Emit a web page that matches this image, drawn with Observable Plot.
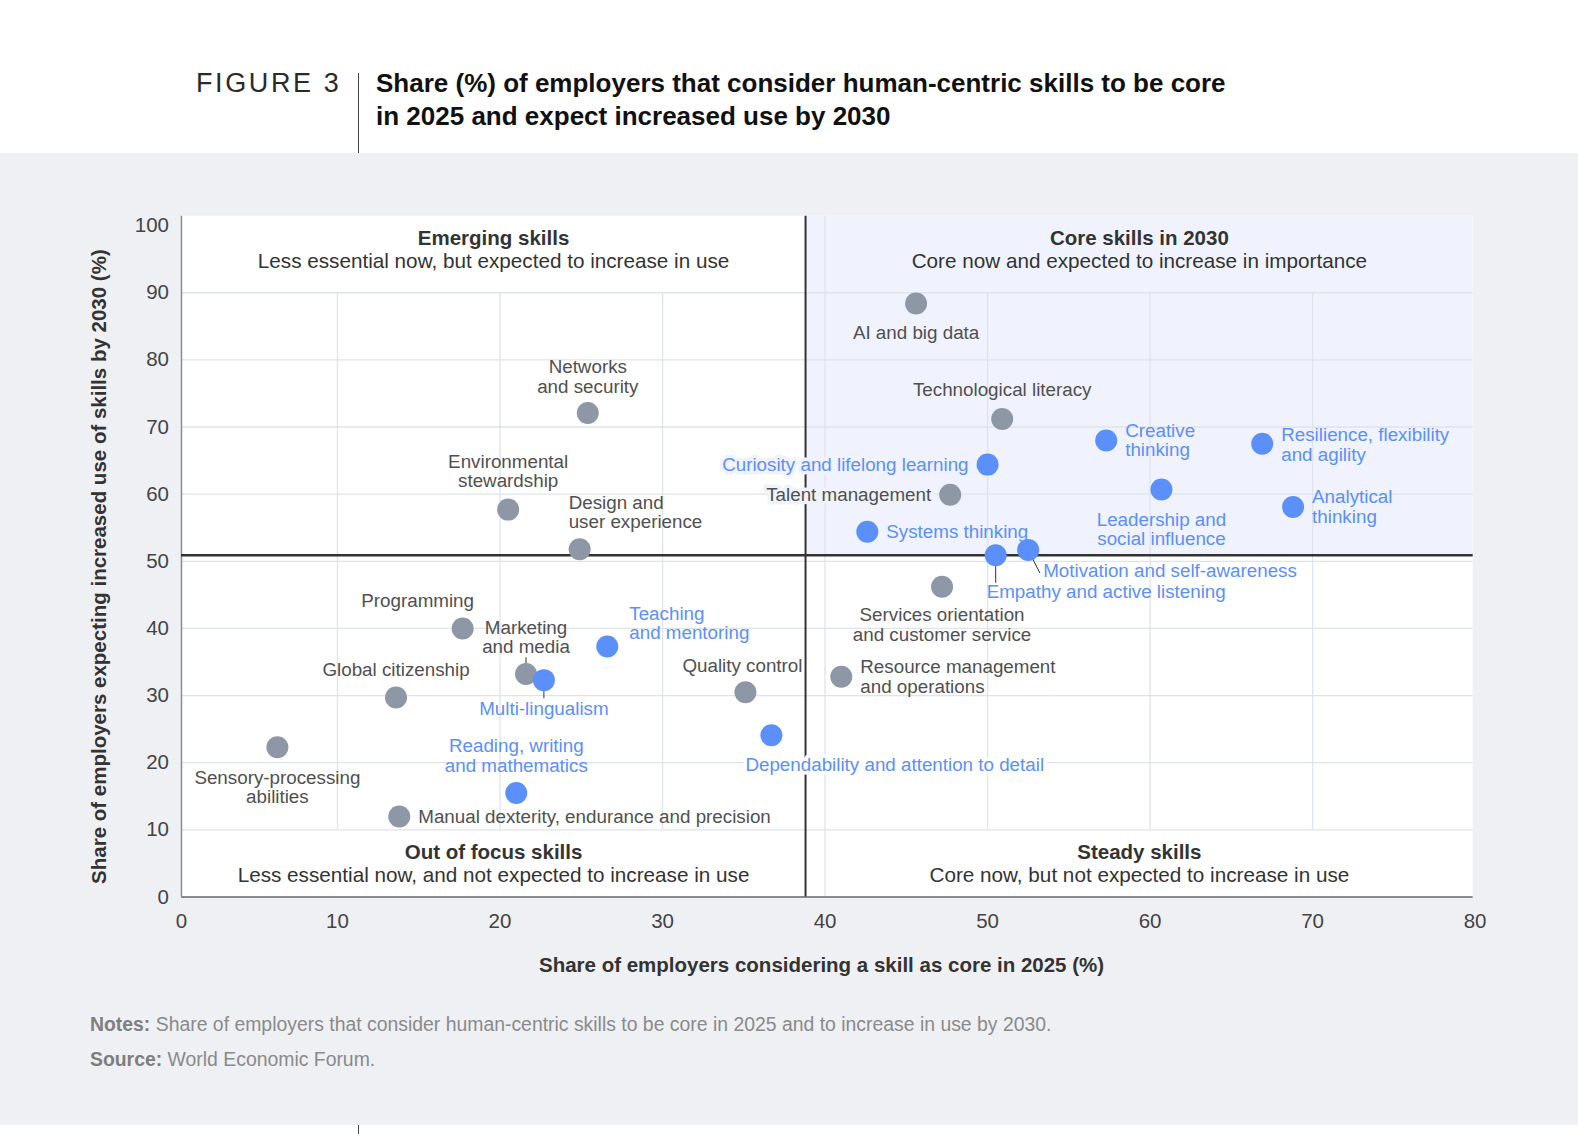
<!DOCTYPE html>
<html>
<head>
<meta charset="utf-8">
<script src="https://cdn.jsdelivr.net/npm/d3@7"></script>
<script src="https://cdn.jsdelivr.net/npm/@observablehq/plot@0.6"></script>
<style>
  html, body { margin: 0; padding: 0; }
  body { width: 1578px; height: 1134px; position: relative; background: #ffffff; overflow: hidden;
         font-family: "Liberation Sans", Arial, Helvetica, sans-serif; }
  .abs { position: absolute; white-space: nowrap; }
  #figure { left: 196px; top: 70px; font-size: 27px; line-height: 27px; letter-spacing: 2.6px; color: #2a2a2a; }
  #vline { left: 358px; top: 73px; width: 1px; height: 80px; background: #444; }
  #title { left: 376px; top: 67px; font-size: 26px; line-height: 32.5px; font-weight: bold; color: #111; }
  #greybg { left: 0; top: 153px; width: 1578px; height: 972px; background: #eff0f4; }
  #chart { left: 0; top: 153px; }
  .note { left: 90px; font-size: 19.4px; line-height: 19.4px; color: #8a8a8a; }
  .note b { color: #7e7e7e; }
  #vline2 { left: 358px; top: 1125px; width: 1px; height: 9px; background: #444; }
</style>
</head>
<body>
<div id="greybg" class="abs"></div>
<div id="figure" class="abs">FIGURE 3</div>
<div id="vline" class="abs"></div>
<div id="title" class="abs">Share (%) of employers that consider human-centric skills to be core<br>in 2025 and expect increased use by 2030</div>
<div id="chart" class="abs"></div>
<div class="abs note" style="top:1015px"><b>Notes:</b> Share of employers that consider human-centric skills to be core in 2025 and to increase in use by 2030.</div>
<div class="abs note" style="top:1050px"><b>Source:</b> World Economic Forum.</div>
<div id="vline2" class="abs"></div>
<script>
// ---------- DATA ----------
const skills = [
  "AI and big data",
  "Technological literacy",
  "Talent management",
  "Services orientation\nand customer service",
  "Resource management\nand operations",
  "Quality control",
  "Networks\nand security",
  "Environmental\nstewardship",
  "Design and\nuser experience",
  "Programming",
  "Marketing\nand media",
  "Global citizenship",
  "Sensory-processing\nabilities",
  "Manual dexterity, endurance and precision",
  "Curiosity and lifelong learning",
  "Creative\nthinking",
  "Resilience, flexibility\nand agility",
  "Leadership and\nsocial influence",
  "Analytical\nthinking",
  "Systems thinking",
  "Empathy and active listening",
  "Motivation and self-awareness",
  "Teaching\nand mentoring",
  "Multi-lingualism",
  "Dependability and attention to detail",
  "Reading, writing\nand mathematics"
];
const core2025 = [45.6, 50.9, 47.7, 47.2, 41.0, 35.1, 25.4, 20.5, 24.9, 17.7, 21.6, 13.6, 6.3, 13.8,
                  50.0, 57.3, 66.9, 60.7, 68.8, 42.6, 50.5, 52.5, 26.6, 22.7, 36.7, 21.0];
const increase2030 = [88.4, 71.2, 59.9, 46.2, 32.8, 30.5, 72.1, 57.7, 51.8, 40.0, 33.2, 29.7, 22.3, 12.0,
                      64.4, 68.0, 67.5, 60.7, 58.1, 54.4, 50.9, 51.7, 37.3, 32.3, 24.1, 15.5];
const skillGroup = ["other","other","other","other","other","other","other","other","other","other","other","other","other","other",
                    "human","human","human","human","human","human","human","human","human","human","human","human"];

const xTicks = [0, 10, 20, 30, 40, 50, 60, 70, 80];
const yTicks = [0, 10, 20, 30, 40, 50, 60, 70, 80, 90, 100];
const xDivide = 38.8;   // threshold: share core in 2025
const yDivide = 50.9;   // threshold: share expecting increase

const quadrantTitles = ["Emerging skills", "Core skills in 2030", "Out of focus skills", "Steady skills"];
const quadrantSubtitles = [
  "Less essential now, but expected to increase in use",
  "Core now and expected to increase in importance",
  "Less essential now, and not expected to increase in use",
  "Core now, but not expected to increase in use"
];
const xAxisTitle = "Share of employers considering a skill as core in 2025 (%)";
const yAxisTitle = "Share of employers expecting increased use of skills by 2030 (%)";

// ---------- LAYOUT ----------
const xLeft = 0.4, xRight = 79.88, yTop = 101.4;   // extent of the white plotting panel
const labelLayout = {
  "AI and big data": ["middle", 0, 29],
  "Technological literacy": ["middle", 0, -29],
  "Talent management": ["end", -19, 0, true],
  "Services orientation\nand customer service": ["middle", 0, 38],
  "Resource management\nand operations": ["start", 19, 0],
  "Quality control": ["middle", -3, -26],
  "Networks\nand security": ["middle", 0, -36],
  "Environmental\nstewardship": ["middle", 0, -38],
  "Design and\nuser experience": ["start", -11, -37],
  "Programming": ["middle", -45, -28],
  "Marketing\nand media": ["middle", 0, -37],
  "Global citizenship": ["middle", 0, -28],
  "Sensory-processing\nabilities": ["middle", 0, 40],
  "Manual dexterity, endurance and precision": ["start", 19, 0],
  "Curiosity and lifelong learning": ["end", -19, 0, true],
  "Creative\nthinking": ["start", 19, 0],
  "Resilience, flexibility\nand agility": ["start", 19, 1],
  "Leadership and\nsocial influence": ["middle", 0, 40],
  "Analytical\nthinking": ["start", 19, 0],
  "Systems thinking": ["start", 19, 0],
  "Empathy and active listening": ["start", -9, 37],
  "Motivation and self-awareness": ["start", 15, 21],
  "Teaching\nand mentoring": ["start", 22, -23],
  "Multi-lingualism": ["middle", 0, 29],
  "Dependability and attention to detail": ["start", -26, 30, true],
  "Reading, writing\nand mathematics": ["middle", 0, -37]
};
const leaders = {
  "Marketing\nand media": [0, 2.5],
  "Multi-lingualism": [0, -2.7],
  "Empathy and active listening": [0, -4.1],
  "Motivation and self-awareness": [0.72, -3.45]
};

// ---------- BUILD ----------
const data = skills.map((s, i) => ({skill: s, x: core2025[i], y: increase2030[i], group: skillGroup[i]}));
const blue = "#5b8ff9", greyDot = "#8e97a6", greyText = "#505050", darkText = "#333333";
const shade = "#f0f3fd", gridColor = "#dfe3ea";
const inShade = d => d.x > xDivide && d.y > yDivide;

const quadrants = quadrantTitles.map((t, i) => ({
  title: t, subtitle: quadrantSubtitles[i],
  xm: i % 2 === 0 ? (xLeft + xDivide) / 2 : (xDivide + xRight) / 2,
  top: i < 2
}));

const labelMarks = data.map(d => {
  const [anchor, dx, dy, halo] = labelLayout[d.skill];
  return Plot.text([d], {
    x: "x", y: "y", text: "skill", textAnchor: anchor, dx, dy,
    lineAnchor: "middle", lineHeight: 1.03, fontSize: 18.8,
    fill: d.group === "human" ? blue : greyText,
    stroke: halo ? (inShade(d) ? shade : "#ffffff") : "none",
    strokeWidth: halo ? 7 : 0, paintOrder: "stroke"
  });
});

const leaderData = data.filter(d => leaders[d.skill]).map(d => ({
  x1: d.x, y1: d.y, x2: d.x + leaders[d.skill][0], y2: d.y + leaders[d.skill][1]
}));

const chart = Plot.plot({
  width: 1578,
  height: 843,
  marginLeft: 174.5,
  marginRight: 103.4,
  marginTop: 62.7,
  marginBottom: 99.5,
  x: {domain: [0, 80]},
  y: {domain: [0, yTop]},
  style: {background: "transparent", fontFamily: "'Liberation Sans', Arial, Helvetica, sans-serif", overflow: "visible"},
  marks: [
    Plot.rect([{}], {x1: xLeft, x2: xRight, y1: 0, y2: yTop, fill: "#ffffff"}),
    Plot.rect([{}], {x1: xDivide, x2: xRight, y1: yDivide, y2: yTop, fill: shade}),
    Plot.ruleY(yTicks.filter(v => v > 0 && v < 100), {x1: xLeft, x2: xRight, stroke: gridColor, strokeWidth: 1.3}),
    Plot.ruleX(xTicks.filter(v => v > 0 && v < 80 && v !== 40), {y1: 10, y2: 90, stroke: gridColor, strokeWidth: 1.3}),
    Plot.ruleX([40], {y1: 0, y2: yTop, stroke: gridColor, strokeWidth: 1.3}),
    Plot.ruleX([xLeft], {y1: 0, y2: yTop, stroke: "#8c8c8c", strokeWidth: 1.5}),
    Plot.ruleY([0], {x1: xLeft, x2: xRight, stroke: "#8c8c8c", strokeWidth: 2}),
    Plot.ruleX([xDivide], {y1: 0, y2: yTop, stroke: "#333333", strokeWidth: 2}),
    Plot.ruleY([yDivide], {x1: xLeft, x2: xRight, stroke: "#333333", strokeWidth: 2.5}),
    Plot.link(leaderData, {x1: "x1", y1: "y1", x2: "x2", y2: "y2", stroke: "#333333", strokeWidth: 1}),
    Plot.dot(data.filter(d => d.group === "other"), {x: "x", y: "y", r: 11, fill: greyDot}),
    Plot.dot(data.filter(d => d.group === "human"), {x: "x", y: "y", r: 11, fill: blue}),
    ...labelMarks,
    // quadrant annotations
    Plot.text(quadrants.filter(q => q.top), {x: "xm", text: "title", frameAnchor: "top", lineAnchor: "middle", dy: 21.8, fontSize: 20.5, fontWeight: "bold", fill: darkText}),
    Plot.text(quadrants.filter(q => q.top), {x: "xm", text: "subtitle", frameAnchor: "top", lineAnchor: "middle", dy: 45, fontSize: 20.7, fill: darkText}),
    Plot.text(quadrants.filter(q => !q.top), {x: "xm", text: "title", frameAnchor: "bottom", lineAnchor: "middle", dy: -45, fontSize: 20.5, fontWeight: "bold", fill: darkText}),
    Plot.text(quadrants.filter(q => !q.top), {x: "xm", text: "subtitle", frameAnchor: "bottom", lineAnchor: "middle", dy: -21.5, fontSize: 20.7, fill: darkText}),
    // axes
    Plot.axisX({ticks: xTicks.filter(v => v > 0), tickSize: 0, tickPadding: 16, fontSize: 20.5, color: "#444444", label: null}),
    Plot.text([xTicks[0]], {x: () => xLeft, text: d => String(d), frameAnchor: "bottom", lineAnchor: "top", dy: 16, fontSize: 20.5, fill: "#444444"}),
    Plot.axisY({ticks: yTicks, tickSize: 0, tickPadding: 6, fontSize: 20.5, color: "#444444", label: null}),
    Plot.text([xAxisTitle], {text: d => d, frameAnchor: "bottom", dx: -3.5, dy: 68.5, fontSize: 20.5, fontWeight: "bold", fill: darkText, lineAnchor: "middle"}),
    Plot.text([yAxisTitle], {text: d => d, frameAnchor: "left", rotate: -90, dx: -75.9, dy: 10, fontSize: 20.5, fontWeight: "bold", fill: darkText, lineAnchor: "middle", textAnchor: "middle"})
  ]
});
document.getElementById("chart").appendChild(chart);
</script>
</body>
</html>
